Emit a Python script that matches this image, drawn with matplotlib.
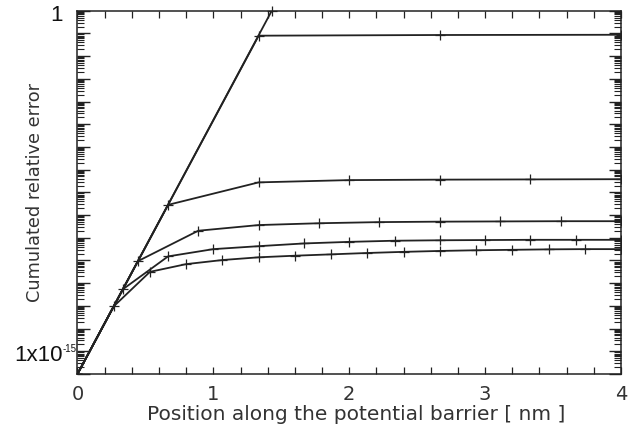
import numpy as np
import matplotlib
matplotlib.use("Agg")
import matplotlib.pyplot as plt
import matplotlib.transforms as mtransforms
from matplotlib.ticker import FixedLocator, NullFormatter, MultipleLocator

# Data: log10 of cumulated relative error for several step sizes
x_step2 = [0.0, 2.0, 4.0]
y_step2 = [-16.0, 6.38, 6.40]

x_s1 = [0.0, 4/3, 8/3, 4.0]
y_s1 = [-16.0, -1.10, -1.07, -1.06]

x_s2 = [0.0, 2/3, 4/3, 2.0, 8/3, 10/3, 4.0]
y_s2 = [-16.0, -8.55, -7.56, -7.46, -7.44, -7.43, -7.42]

x_s3 = [i * 4/9 for i in range(10)]
y_s3 = [-16.0, -11.03, -9.69, -9.44, -9.36, -9.31, -9.29, -9.28, -9.27, -9.27]

x_s4 = [i / 3 for i in range(13)]
y_s4 = [-16.0, -12.27, -10.82, -10.50, -10.37, -10.25, -10.18, -10.13, -10.11,
        -10.10, -10.09, -10.09, -10.09]

x_s5 = [i * 4/15 for i in range(16)]
y_s5 = [-16.0, -13.02, -11.50, -11.16, -10.98, -10.86, -10.79, -10.73, -10.67,
        -10.62, -10.58, -10.55, -10.53, -10.51, -10.50, -10.50]

# point where the largest-step curve leaves the plot
clip_x = [1.43]
clip_y = [0.0]

xlabel = "Position along the potential barrier [ nm ]"
ylabel = "Cumulated relative error"
xticks = [0, 1, 2, 3, 4]
ytick_label_top = "1"
ytick_label_low_base = "1x10"
ytick_label_low_exp = "-15"

fig = plt.figure(figsize=(6.41, 4.46), dpi=100)
ax = fig.add_axes([0.1209, 0.1614, 0.9688 - 0.1209, 0.976 - 0.1614])

col = "#222222"
for xs, ys in [(x_step2, y_step2), (x_s1, y_s1), (x_s2, y_s2), (x_s3, y_s3),
               (x_s4, y_s4), (x_s5, y_s5)]:
    ax.plot(xs, 10.0 ** np.array(ys), color=col, lw=1.3, marker='+',
            markersize=7, markeredgewidth=0.9)
ax.plot(clip_x, 10.0 ** np.array(clip_y), ls='none', color=col, marker='+',
        markersize=7, markeredgewidth=0.9, clip_on=False)

ax.set_yscale('log')
ax.set_xlim(0, 4)
ax.set_ylim(1e-16, 1)

ax.xaxis.set_major_locator(FixedLocator(xticks))
ax.xaxis.set_minor_locator(MultipleLocator(0.2))
ax.yaxis.set_major_locator(FixedLocator([10.0 ** k for k in range(-16, 1)]))
minor = [m * 10.0 ** k for k in range(-16, 0) for m in range(2, 10)]
ax.yaxis.set_minor_locator(FixedLocator(minor))
ax.yaxis.set_major_formatter(NullFormatter())
ax.yaxis.set_minor_formatter(NullFormatter())

ax.tick_params(axis='x', which='both', direction='in', top=True, bottom=True,
               length=5, width=0.9, color=col, labelsize=14, pad=8,
               labelcolor="#333333")
ax.tick_params(axis='y', which='major', direction='in', left=True, right=True,
               length=9, width=1.0, color=col)
ax.tick_params(axis='y', which='minor', direction='in', left=True, right=True,
               length=5, width=0.8, color=col)
for lab in ax.get_xticklabels():
    lab.set_family("DejaVu Sans")

# y tick labels (only two are labelled)
trans = mtransforms.blended_transform_factory(ax.transAxes, ax.transData)
ax.text(-0.028, 10 ** -0.2, ytick_label_top, transform=trans, ha='right',
        va='center', fontsize=16, family="Liberation Sans", color="#111111")
ax.text(-0.027, 1e-15 * 10 ** -0.17, ytick_label_low_base, transform=trans,
        ha='right', va='center', fontsize=16, family="Liberation Sans",
        color="#111111")
ax.text(-0.027, 1e-15 * 10 ** -0.12, ytick_label_low_exp, transform=trans,
        ha='left', va='bottom', fontsize=7, family="Liberation Sans",
        color="#111111")

for s in ax.spines.values():
    s.set_linewidth(1.1)
    s.set_color(col)

ax.set_xlabel(xlabel, fontsize=14.5, color="#333333", labelpad=4)
ax.xaxis.set_label_coords(0.513, -0.085)
ax.set_ylabel(ylabel, fontsize=12.8, color="#333333")
ax.yaxis.set_label_coords(-0.062, 0.5)

fig.savefig("out.png", dpi=100)
